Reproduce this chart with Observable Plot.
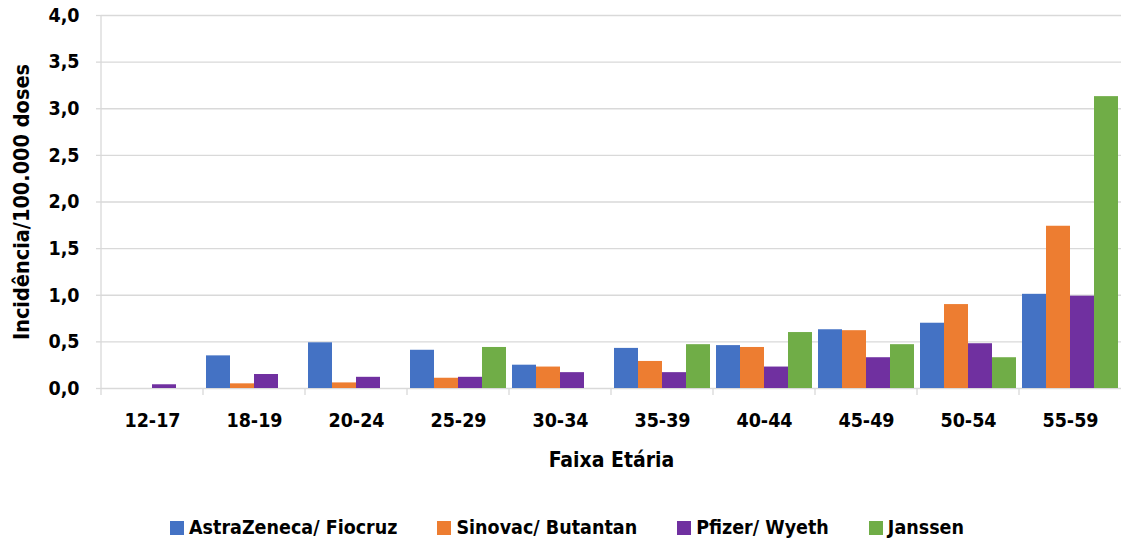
<!DOCTYPE html>
<html>
<head>
<meta charset="utf-8">
<script src="https://cdn.jsdelivr.net/npm/d3@7"></script>
<script src="https://cdn.jsdelivr.net/npm/@observablehq/plot@0.6"></script>
<style>
  html, body { margin: 0; padding: 0; background: #fff; }
  body { width: 1122px; height: 541px; overflow: hidden;
         font-family: "DejaVu Sans Condensed", "DejaVu Sans", sans-serif; font-weight: bold; color: #000; }
  #legend { display: flex; align-items: center; margin-left: 170px; padding-top: 37px; font-size: 19.5px; line-height: 22px; }
  #legend .item { display: flex; align-items: center; margin-right: 40px; }
  #legend .sw { width: 14px; height: 14px; margin-right: 5px; }
</style>
</head>
<body>
<div id="chart"></div>
<div id="legend"></div>
<script>
const faixas = ["12-17", "18-19", "20-24", "25-29", "30-34", "35-39", "40-44", "45-49", "50-54", "55-59"];
const vacinas = ["AstraZeneca/ Fiocruz", "Sinovac/ Butantan", "Pfizer/ Wyeth", "Janssen"];
const cores = ["#4472C4", "#ED7D31", "#7030A0", "#70AD47"];
const astrazeneca = [null, 0.35, 0.49, 0.41, 0.25, 0.43, 0.46, 0.63, 0.70, 1.01];
const sinovac     = [null, 0.05, 0.06, 0.11, 0.23, 0.29, 0.44, 0.62, 0.90, 1.74];
const pfizer      = [0.04, 0.15, 0.12, 0.12, 0.17, 0.17, 0.23, 0.33, 0.48, 0.99];
const janssen     = [null, null, null, 0.44, null, 0.47, 0.60, 0.47, 0.33, 3.13];
const yTicks = [0, 0.5, 1, 1.5, 2, 2.5, 3, 3.5, 4];

const series = [astrazeneca, sinovac, pfizer, janssen];
const data = [];
faixas.forEach((f, i) => {
  series.forEach((vals, j) => {
    if (vals[i] != null) data.push({faixa: f, vacina: vacinas[j], valor: vals[i]});
  });
});

const FONT = '"DejaVu Sans Condensed", "DejaVu Sans", sans-serif';
const fmt = d => d.toFixed(1).replace(".", ",");

const chart = Plot.plot({
  width: 1122,
  height: 480,
  marginLeft: 99,
  marginRight: 0,
  marginTop: 15,
  marginBottom: 92,
  style: {fontFamily: FONT, fontWeight: "bold", fontSize: "19.5px", color: "#000", background: "#fff", overflow: "visible"},
  fx: {domain: faixas, padding: 0},
  x: {domain: vacinas, paddingInner: 0, paddingOuter: 0.08, axis: null},
  y: {domain: [0, 4]},
  color: {domain: vacinas, range: cores},
  marks: [
    Plot.gridY(yTicks, {stroke: "#d9d9d9", strokeOpacity: 1, strokeWidth: 1.3}),
    Plot.axisY(yTicks, {anchor: "left", tickSize: 5, tickPadding: 17, stroke: "#d9d9d9", strokeWidth: 1.3, tickFormat: fmt, label: null, fill: "#000"}),
    Plot.axisY({anchor: "left", ticks: [], label: "Incidência/100.000 doses", labelArrow: "none", labelAnchor: "center", labelOffset: 88, fontSize: 21.5, fill: "#000"}),
    Plot.axisFx({anchor: "bottom", tickSize: 0, tickPadding: 25, label: null, fill: "#000"}),
    Plot.axisFx({anchor: "bottom", ticks: [], label: "Faixa Etária", labelArrow: "none", labelAnchor: "center", labelOffset: 78, fontSize: 21, fill: "#000"}),
    Plot.barY(data, {fx: "faixa", x: "vacina", y: "valor", fill: "vacina"})
  ]
});
document.getElementById("chart").appendChild(chart);

// Category boundary ticks and vertical axis line, from the library's scales
const fx = chart.scale("fx");
const ys = chart.scale("y");
const y0 = ys.apply(0), yTop = ys.apply(4);
const svg = d3.select(chart);
const g = svg.append("g").attr("stroke", "#d9d9d9").attr("stroke-width", 1.3);
faixas.forEach((f, i) => {
  const x = fx.apply(f);
  g.append("line").attr("x1", x).attr("x2", x)
    .attr("y1", i === 0 ? yTop : y0).attr("y2", y0 + 7);
});

// Legend
const legend = d3.select("#legend");
vacinas.forEach((v, i) => {
  const it = legend.append("div").attr("class", "item");
  it.append("div").attr("class", "sw").style("background", cores[i]);
  it.append("span").text(v);
});
</script>
</body>
</html>
